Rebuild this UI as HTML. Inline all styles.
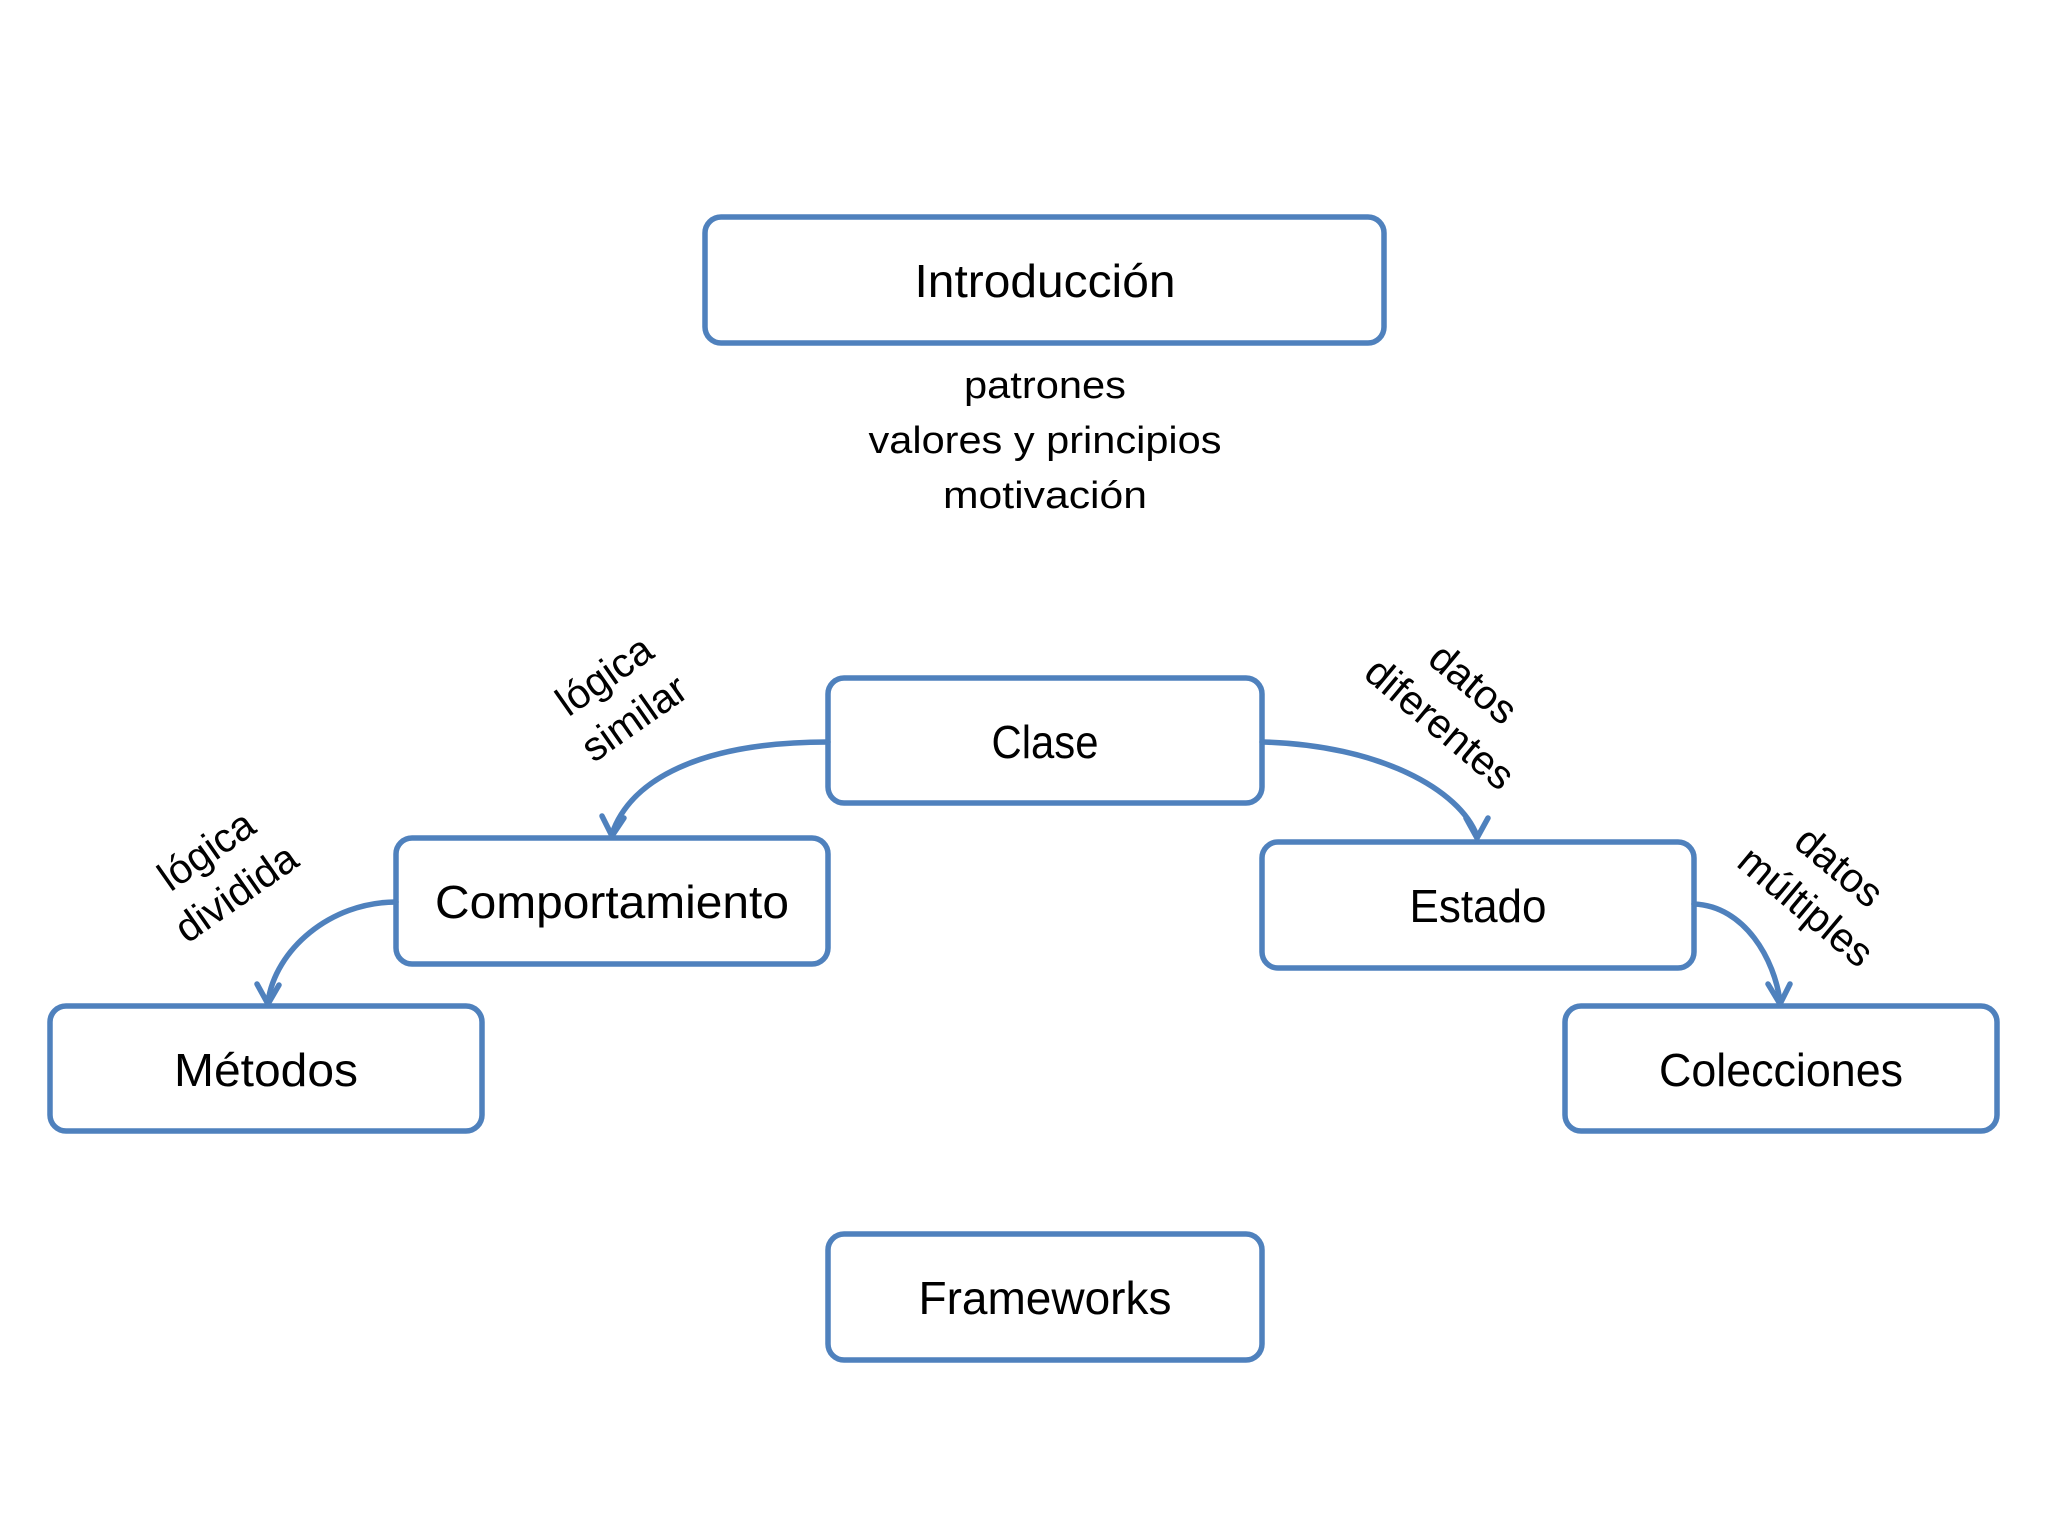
<!DOCTYPE html>
<html><head><meta charset="utf-8"><style>
html,body{margin:0;padding:0;background:#fff;}
svg{display:block;}
text{font-family:"Liberation Sans",sans-serif;fill:#000;}
</style></head><body>
<svg width="2048" height="1536" viewBox="0 0 2048 1536" xmlns="http://www.w3.org/2000/svg">
<g fill="#fff" stroke="#4f81bd" stroke-width="5.5">
<rect x="705" y="217" width="679" height="126" rx="16"/>
<rect x="828" y="678" width="434" height="125" rx="16"/>
<rect x="396" y="838" width="432" height="126" rx="16"/>
<rect x="1262" y="842" width="432" height="126" rx="16"/>
<rect x="50" y="1006" width="432" height="125" rx="16"/>
<rect x="1565" y="1006" width="432" height="125" rx="16"/>
<rect x="828" y="1234" width="434" height="126" rx="16"/>
</g>
<g fill="none" stroke="#4f81bd" stroke-width="5.5" stroke-linecap="round" stroke-linejoin="round">
<path d="M828,742 C700,742 630,780 612,834"/>
<polyline points="602,816 612,836 624,818"/>
<path d="M1262,742 C1380,745 1460,790 1477,836"/>
<polyline points="1466,818 1477,838 1488,818"/>
<path d="M396,902 C330,902 275,950 268,1002"/>
<polyline points="257,984 268,1004 279,985"/>
<path d="M1694,904 C1745,906 1775,960 1780,1002"/>
<polyline points="1768,984 1780,1004 1790,984"/>
</g>
<g font-size="46" text-anchor="middle">
<text x="1045" y="297" textLength="261" lengthAdjust="spacingAndGlyphs">Introducción</text>
<text x="1045" y="758" textLength="107" lengthAdjust="spacingAndGlyphs">Clase</text>
<text x="612" y="918" textLength="354" lengthAdjust="spacingAndGlyphs">Comportamiento</text>
<text x="1478" y="922" textLength="137" lengthAdjust="spacingAndGlyphs">Estado</text>
<text x="266" y="1086" textLength="184" lengthAdjust="spacingAndGlyphs">Métodos</text>
<text x="1781" y="1086" textLength="244" lengthAdjust="spacingAndGlyphs">Colecciones</text>
<text x="1045" y="1314" textLength="253" lengthAdjust="spacingAndGlyphs">Frameworks</text>
</g>
<g font-size="38" text-anchor="middle">
<text x="1045" y="398" textLength="162" lengthAdjust="spacingAndGlyphs">patrones</text>
<text x="1045" y="453" textLength="353" lengthAdjust="spacingAndGlyphs">valores y principios</text>
<text x="1045" y="508" textLength="204" lengthAdjust="spacingAndGlyphs">motivación</text>
</g>
<g font-size="41" text-anchor="middle">
<g transform="translate(618,695) rotate(-35)">
<text x="0" y="-10">lógica</text><text x="0" y="42">similar</text>
</g>
<g transform="translate(220,870) rotate(-35)">
<text x="0" y="-10">lógica</text><text x="0" y="42">dividida</text>
</g>
<g transform="translate(1458,702) rotate(40)">
<text x="0" y="-10">datos</text><text x="0" y="42">diferentes</text>
</g>
<g transform="translate(1824,885) rotate(40)">
<text x="0" y="-10">datos</text><text x="0" y="42">múltiples</text>
</g>
</g>
</svg>
</body></html>
